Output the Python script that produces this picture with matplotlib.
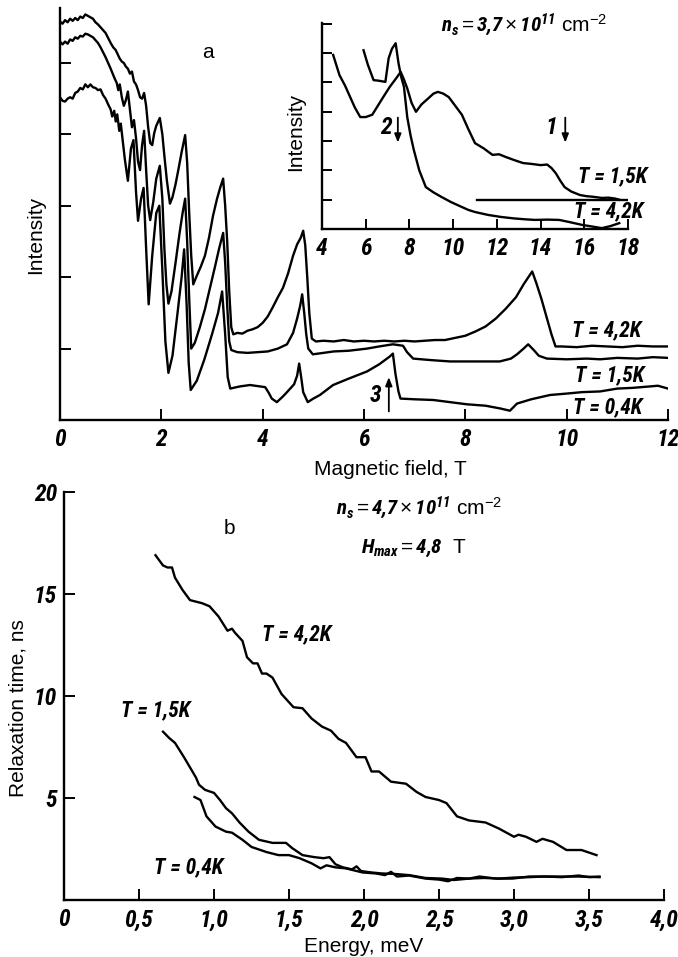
import matplotlib
matplotlib.use('Agg')
import matplotlib.pyplot as plt
from matplotlib import font_manager as fm

# ---------------- panel a : intensity vs magnetic field ----------------
field_42 = [0.00, 0.05, 0.10, 0.15, 0.20, 0.25, 0.30, 0.35, 0.40, 0.45, 0.50, 0.55, 0.60, 0.65, 0.70,
            0.75, 0.80, 0.85, 0.90, 0.95, 1.00, 1.05, 1.10, 1.14, 1.18, 1.22, 1.26, 1.30, 1.34, 1.38,
            1.42, 1.46, 1.50, 1.54, 1.58, 1.62, 1.66, 1.70, 1.74, 1.78, 1.82, 1.86, 1.90, 1.97, 2.02,
            2.06, 2.11, 2.17, 2.22, 2.28, 2.34, 2.40, 2.47, 2.51, 2.55, 2.59, 2.63, 2.70, 2.78, 2.86,
            2.94, 3.02, 3.10, 3.16, 3.22, 3.26, 3.30, 3.34, 3.38, 3.42, 3.50, 3.60, 3.70, 3.80, 3.90,
            4.00, 4.10, 4.20, 4.30, 4.40, 4.50, 4.60, 4.68, 4.75, 4.80, 4.84, 4.88, 4.92, 4.97, 5.05,
            5.20, 5.40, 5.60, 5.80, 6.00, 6.20, 6.40, 6.60, 6.80, 7.00, 7.20, 7.40, 7.60, 7.80, 8.00,
            8.20, 8.40, 8.60, 8.80, 9.00, 9.15, 9.32, 9.40, 9.50, 9.60, 9.70, 9.78, 9.90, 10.20, 10.50,
            10.80, 11.10, 11.40, 11.70, 12.00]
int_42 = [5.58, 5.55, 5.60, 5.57, 5.62, 5.59, 5.63, 5.60, 5.65, 5.63, 5.68, 5.66, 5.64, 5.62, 5.57,
          5.54, 5.50, 5.46, 5.42, 5.35, 5.28, 5.22, 5.18, 5.12, 5.06, 5.02, 5.00, 4.95, 4.92, 4.85,
          4.88, 4.74, 4.70, 4.62, 4.52, 4.50, 4.58, 4.40, 4.10, 3.88, 3.85, 4.02, 4.12, 4.23, 4.00,
          3.70, 3.35, 3.03, 3.12, 3.30, 3.52, 3.75, 3.99, 3.60, 2.90, 2.30, 1.90, 2.02, 2.15, 2.30,
          2.55, 2.86, 3.10, 3.25, 3.38, 3.00, 2.50, 1.80, 1.30, 1.20, 1.22, 1.21, 1.25, 1.27, 1.30,
          1.36, 1.45, 1.58, 1.72, 1.85, 2.05, 2.30, 2.46, 2.55, 2.65, 2.45, 2.00, 1.50, 1.14, 1.10,
          1.11, 1.10, 1.12, 1.10, 1.11, 1.10, 1.11, 1.10, 1.11, 1.10, 1.11, 1.12, 1.12, 1.15, 1.18,
          1.24, 1.31, 1.42, 1.56, 1.72, 1.90, 2.08, 1.92, 1.70, 1.45, 1.20, 1.03, 1.03, 1.02, 1.04,
          1.03, 1.02, 1.04, 1.03, 1.03]

field_15 = [0.00, 0.05, 0.10, 0.15, 0.20, 0.25, 0.30, 0.35, 0.40, 0.45, 0.50, 0.55, 0.60, 0.65, 0.70,
            0.75, 0.80, 0.85, 0.90, 0.95, 1.00, 1.04, 1.08, 1.12, 1.15, 1.18, 1.22, 1.26, 1.30, 1.34,
            1.38, 1.42, 1.46, 1.50, 1.54, 1.58, 1.62, 1.66, 1.70, 1.74, 1.78, 1.84, 1.90, 1.97, 2.02,
            2.06, 2.10, 2.14, 2.20, 2.28, 2.36, 2.42, 2.47, 2.51, 2.55, 2.59, 2.66, 2.76, 2.86, 2.96,
            3.06, 3.14, 3.22, 3.26, 3.30, 3.34, 3.38, 3.50, 3.70, 3.90, 4.10, 4.30, 4.48, 4.60, 4.68,
            4.74, 4.78, 4.82, 4.86, 4.90, 4.99, 5.20, 5.40, 5.70, 6.06, 6.30, 6.57, 6.77, 6.85, 6.97,
            7.30, 7.70, 8.20, 8.68, 8.90, 9.02, 9.15, 9.24, 9.35, 9.45, 9.61, 10.00, 10.40, 10.66, 11.00,
            11.40, 11.70, 12.00]
int_15 = [5.30, 5.26, 5.30, 5.27, 5.33, 5.31, 5.36, 5.34, 5.38, 5.37, 5.41, 5.40, 5.38, 5.36, 5.32,
          5.28, 5.22, 5.15, 5.08, 5.00, 4.92, 4.85, 4.78, 4.72, 4.62, 4.70, 4.52, 4.40, 4.48, 4.60,
          4.35, 4.10, 4.20, 3.95, 3.62, 3.50, 3.85, 4.05, 3.50, 3.00, 2.80, 3.05, 3.38, 3.56, 3.10,
          2.40, 1.90, 1.63, 1.80, 2.20, 2.62, 2.90, 3.10, 2.50, 1.70, 1.00, 1.08, 1.30, 1.55, 1.85,
          2.15, 2.40, 2.62, 2.20, 1.60, 1.10, 0.98, 0.95, 0.94, 0.95, 0.96, 1.00, 1.06, 1.22, 1.42,
          1.60, 1.76, 1.50, 1.20, 1.00, 0.92, 0.94, 0.96, 0.97, 1.00, 1.03, 1.06, 1.04, 0.95, 0.86,
          0.84, 0.82, 0.82, 0.82, 0.86, 0.92, 1.00, 1.06, 0.98, 0.90, 0.86, 0.85, 0.86, 0.85, 0.87,
          0.86, 0.88, 0.87]

field_04 = [0.00, 0.05, 0.10, 0.15, 0.20, 0.25, 0.30, 0.35, 0.40, 0.45, 0.50, 0.55, 0.60, 0.65, 0.70,
            0.75, 0.80, 0.85, 0.90, 0.95, 1.00, 1.03, 1.07, 1.10, 1.13, 1.17, 1.20, 1.24, 1.28, 1.34,
            1.40, 1.45, 1.50, 1.54, 1.60, 1.65, 1.70, 1.75, 1.82, 1.90, 1.96, 2.02, 2.08, 2.14, 2.22,
            2.32, 2.40, 2.45, 2.50, 2.54, 2.58, 2.70, 2.85, 3.00, 3.12, 3.20, 3.26, 3.31, 3.36, 3.55,
            3.75, 3.95, 4.05, 4.12, 4.18, 4.28, 4.40, 4.48, 4.62, 4.68, 4.72, 4.76, 4.80, 4.89, 5.00,
            5.13, 5.39, 5.70, 6.06, 6.30, 6.51, 6.57, 6.62, 6.68, 6.72, 7.00, 7.37, 7.70, 8.03, 8.40,
            8.70, 8.88, 8.95, 9.02, 9.30, 9.67, 10.00, 10.30, 10.66, 11.00, 11.30, 11.64, 11.80, 12.00]
int_04 = [4.52, 4.47, 4.46, 4.50, 4.52, 4.50, 4.58, 4.60, 4.65, 4.63, 4.70, 4.66, 4.70, 4.66, 4.65,
          4.62, 4.63, 4.55, 4.50, 4.42, 4.35, 4.25, 4.33, 4.18, 4.28, 4.05, 4.15, 3.90, 3.65, 3.35,
          3.80, 3.92, 3.20, 2.79, 3.10, 3.25, 2.40, 1.62, 2.30, 2.90, 3.00, 2.10, 1.10, 0.66, 0.90,
          1.50, 2.00, 2.39, 1.60, 0.80, 0.42, 0.55, 0.85, 1.20, 1.50, 1.80, 1.20, 0.60, 0.44, 0.47,
          0.49, 0.47, 0.46, 0.38, 0.30, 0.25, 0.33, 0.39, 0.50, 0.62, 0.79, 0.60, 0.39, 0.25, 0.30,
          0.35, 0.49, 0.58, 0.68, 0.78, 0.89, 0.93, 0.65, 0.40, 0.30, 0.29, 0.28, 0.25, 0.22, 0.20,
          0.16, 0.13, 0.18, 0.23, 0.29, 0.35, 0.37, 0.39, 0.40, 0.44, 0.45, 0.47, 0.48, 0.44]

field_ticks = [0, 2, 4, 6, 8, 10, 12]

# ---------------- inset : n_s = 3.7e11 ----------------
in_field_15 = [4.51, 4.80, 5.05, 5.29, 5.50, 5.75, 6.00, 6.30, 6.55, 6.80, 7.10, 7.40, 7.60, 7.75,
               7.90, 8.10, 8.30, 8.55, 8.85, 9.10, 9.30, 9.55, 9.80, 10.10, 10.40, 10.70, 11.00,
               11.40, 11.80, 12.10, 12.40, 12.80, 13.20, 13.60, 14.00, 14.30, 14.50, 14.70, 14.90,
               15.10, 15.40, 15.80, 16.10, 16.40, 16.80, 17.10, 17.40, 17.60]
in_int_15 = [5.94, 5.25, 4.90, 4.50, 4.15, 3.82, 3.82, 3.90, 4.20, 4.50, 4.85, 5.15, 5.36, 5.10,
             4.80, 4.30, 4.00, 4.25, 4.45, 4.62, 4.68, 4.62, 4.50, 4.20, 3.90, 3.40, 2.93,
             2.75, 2.53, 2.55, 2.46, 2.35, 2.25, 2.22, 2.18, 2.20, 2.08, 1.90, 1.65,
             1.43, 1.28, 1.16, 1.12, 1.10, 1.06, 1.07, 1.04, 1.00]

in_field_42 = [5.90, 6.10, 6.36, 6.60, 6.90, 7.05, 7.20, 7.37, 7.50, 7.62, 7.75, 7.90, 8.05, 8.20,
               8.45, 8.75, 9.10, 9.45, 9.90, 10.40, 10.70, 11.00, 11.60, 12.20, 12.80, 13.30, 13.75,
               14.30, 14.85, 15.30, 15.90, 16.40, 16.80, 17.20, 17.60]
in_int_42 = [6.10, 5.60, 5.08, 5.06, 5.02, 5.83, 6.15, 6.34, 5.66, 5.20, 4.85, 3.82, 3.20, 2.70,
             2.00, 1.43, 1.25, 1.10, 0.92, 0.75, 0.65, 0.58, 0.48, 0.41, 0.36, 0.33, 0.31,
             0.32, 0.31, 0.24, 0.14, 0.08, 0.03, 0.10, 0.20]

in_base_x = [11.1, 18.0]
in_base_y = [1.0, 1.0]

in_ticks = [4, 6, 8, 10, 12, 14, 16, 18]

# ---------------- panel b : relaxation time vs energy ----------------
en_42 = [0.61, 0.66, 0.69, 0.72, 0.74, 0.79, 0.84, 0.92, 0.97, 1.03, 1.09, 1.12, 1.14, 1.19, 1.22,
         1.26, 1.29, 1.32, 1.35, 1.39, 1.45, 1.53, 1.59, 1.65, 1.72, 1.78, 1.83, 1.88, 1.95, 2.01,
         2.05, 2.10, 2.18, 2.28, 2.35, 2.41, 2.50, 2.55, 2.62, 2.70, 2.81, 2.90, 3.00, 3.03, 3.08,
         3.15, 3.19, 3.26, 3.35, 3.45, 3.55]
tau_42 = [16.9, 16.4, 16.3, 16.3, 15.8, 15.2, 14.7, 14.55, 14.4, 13.9, 13.2, 13.3, 13.1, 12.7, 11.9,
          11.6, 11.6, 11.1, 11.1, 10.9, 10.1, 9.45, 9.4, 8.9, 8.5, 8.3, 7.9, 7.7, 7.0, 7.0,
          6.3, 6.3, 5.8, 5.7, 5.3, 5.05, 4.9, 4.75, 4.1, 3.9, 3.8, 3.5, 3.1, 3.2, 3.1,
          2.85, 3.0, 2.85, 2.45, 2.45, 2.2]

en_15 = [0.66, 0.70, 0.74, 0.80, 0.84, 0.88, 0.90, 0.94, 1.00, 1.04, 1.08, 1.12, 1.17, 1.23, 1.30,
         1.39, 1.48, 1.52, 1.59, 1.67, 1.73, 1.77, 1.81, 1.86, 1.92, 1.95, 1.98, 2.05, 2.12, 2.20,
         2.30, 2.41, 2.52, 2.60, 2.70, 2.77, 2.88, 2.99, 3.10, 3.21, 3.32, 3.43, 3.50, 3.57]
tau_15 = [8.25, 7.95, 7.7, 7.0, 6.5, 6.0, 5.65, 5.4, 5.25, 4.9, 4.5, 4.25, 3.8, 3.35, 2.95,
          2.8, 2.8, 2.55, 2.2, 2.1, 2.05, 2.1, 1.75, 1.6, 1.5, 1.65, 1.42, 1.35, 1.3, 1.28,
          1.22, 1.08, 1.05, 0.98, 1.05, 1.15, 1.05, 1.05, 1.15, 1.15, 1.12, 1.2, 1.12, 1.15]

en_04 = [0.87, 0.91, 0.95, 1.01, 1.08, 1.12, 1.19, 1.25, 1.35, 1.43, 1.50, 1.57, 1.65, 1.71, 1.75,
         1.81, 1.88, 1.99, 2.08, 2.14, 2.18, 2.22, 2.30, 2.41, 2.50, 2.56, 2.62, 2.70, 2.80, 2.90,
         3.00, 3.10, 3.20, 3.32, 3.43, 3.57]
tau_04 = [5.05, 4.9, 4.1, 3.6, 3.35, 3.3, 2.95, 2.6, 2.35, 2.2, 2.2, 2.05, 1.8, 1.55, 1.7,
          1.6, 1.55, 1.35, 1.3, 1.22, 1.38, 1.15, 1.2, 1.05, 1.0, 0.92, 1.08, 1.05, 1.08, 1.05,
          1.1, 1.12, 1.15, 1.15, 1.15, 1.12]

en_ticks = [0, 0.5, 1.0, 1.5, 2.0, 2.5, 3.0, 3.5, 4.0]
en_labels = ['0', '0,5', '1,0', '1,5', '2,0', '2,5', '3,0', '3,5', '4,0']
tau_ticks = [5, 10, 15, 20]


# ---------------- styling ----------------
def first_font(names):
    for n in names:
        try:
            fm.findfont(fm.FontProperties(family=n), fallback_to_default=False)
            return n
        except ValueError:
            pass
    return 'DejaVu Sans'


NARROW = first_font(['Liberation Sans Narrow', 'Roboto Condensed', 'DejaVu Sans Condensed',
                     'Open Sans Condensed', 'Roboto'])

plt.rcParams['mathtext.fontset'] = 'custom'
plt.rcParams['mathtext.rm'] = 'Liberation Sans'
plt.rcParams['mathtext.it'] = NARROW + ':italic:bold'
plt.rcParams['mathtext.sf'] = NARROW + ':italic:bold'   # used for the bold-italic numbers
plt.rcParams['mathtext.bf'] = 'Liberation Sans:bold'

NUM = dict(family=[NARROW, 'DejaVu Sans'], style='italic', weight='bold')
LAB = dict(family=['Liberation Sans', 'DejaVu Sans'], size=15)
LW = 1.7
TSZ = 17   # tick labels
LSZ = 15.5  # T = ... labels


def style_axes(ax):
    for s in ['top', 'right']:
        ax.spines[s].set_visible(False)
    for s in ['left', 'bottom']:
        ax.spines[s].set_linewidth(1.7)
    ax.tick_params(direction='in', length=8, width=1.4, top=False, right=False, pad=6)


fig = plt.figure(figsize=(6.78, 9.57), dpi=100)
W, H = 678.0, 957.0

# panel a
ax = fig.add_axes([60 / W, 1 - 420 / H, 608 / W, 412 / H])
style_axes(ax)
ax.plot(field_42, int_42, 'k-', lw=LW)
ax.plot(field_15, int_15, 'k-', lw=LW)
ax.plot(field_04, int_04, 'k-', lw=LW)
ax.set_xlim(0, 12)
ax.set_ylim(0, 5.77)
ax.set_xticks(field_ticks)
ax.set_xticklabels([str(t) for t in field_ticks], size=TSZ, **NUM)
ax.set_yticks([1, 2, 3, 4, 5])
ax.set_yticklabels([])
ax.set_xlabel('Magnetic field, T', **LAB)
ax.xaxis.set_label_coords(0.543, -0.097)
ax.set_ylabel('Intensity', **LAB)
ax.yaxis.set_label_coords(-0.025, 0.45)
ax.text(2.92, 5.15, 'a', ha='center', va='center', **LAB)
ax.text(10.78, 1.26, 'T = 4,2K', ha='center', va='center', size=LSZ, **NUM)
ax.text(10.85, 0.62, 'T = 1,5K', ha='center', va='center', size=LSZ, **NUM)
ax.text(10.80, 0.18, 'T = 0,4K', ha='center', va='center', size=LSZ, **NUM)
ax.text(6.22, 0.35, '3', ha='center', va='center', size=17, **NUM)
ax.annotate('', xy=(6.49, 0.60), xytext=(6.49, 0.12),
            arrowprops=dict(arrowstyle='-|>,head_length=0.5,head_width=0.2', lw=1.3, color='k',
                            shrinkA=0, shrinkB=0))

# inset
axi = fig.add_axes([322 / W, 1 - 229 / H, 306 / W, 206 / H])
axi.set_facecolor('none')
style_axes(axi)
axi.tick_params(length=7)
axi.plot(in_field_15, in_int_15, 'k-', lw=LW)
axi.plot(in_field_42, in_int_42, 'k-', lw=LW)
axi.plot(in_base_x, in_base_y, 'k-', lw=LW)
axi.set_xlim(4, 18)
axi.set_ylim(0, 7.03)
axi.set_xticks(in_ticks)
axi.set_xticklabels([str(t) for t in in_ticks], size=TSZ, **NUM)
axi.set_yticks([1, 2, 3, 4, 5, 6, 7])
axi.set_yticklabels([])
axi.set_ylabel('Intensity', **LAB)
axi.yaxis.set_label_coords(-0.055, 0.47)
axi.text(9.45, 6.95, r'$n_s = \mathsf{3{,}7}\times\mathsf{10}^{\mathsf{11}}$ cm$^{-2}$',
         ha='left', va='center', size=15, family='Liberation Sans')
axi.text(17.3, 1.8, 'T = 1,5K', ha='center', va='center', size=LSZ, **NUM)
axi.text(17.1, 0.62, 'T = 4,2K', ha='center', va='center', size=LSZ, **NUM)
axi.text(6.92, 3.45, '2', ha='center', va='center', size=17, **NUM)
axi.text(14.48, 3.45, '1', ha='center', va='center', size=17, **NUM)
for xa in [7.47, 15.13]:
    axi.annotate('', xy=(xa, 2.95), xytext=(xa, 3.8),
                 arrowprops=dict(arrowstyle='-|>,head_length=0.5,head_width=0.2', lw=1.3,
                                 color='k', shrinkA=0, shrinkB=0))

# panel b
axb = fig.add_axes([64 / W, 1 - 900 / H, 600 / W, 408 / H])
style_axes(axb)
axb.tick_params(axis='y', pad=5)
axb.plot(en_42, tau_42, 'k-', lw=LW)
axb.plot(en_15, tau_15, 'k-', lw=LW)
axb.plot(en_04, tau_04, 'k-', lw=LW)
axb.set_xlim(0, 4)
axb.set_ylim(0, 20)
axb.set_xticks(en_ticks)
axb.set_xticklabels(en_labels, size=TSZ, **NUM)
axb.set_yticks(tau_ticks)
axb.set_yticklabels([str(t) for t in tau_ticks], size=TSZ, **NUM)
axb.set_xlabel('Energy, meV', **LAB)
axb.xaxis.set_label_coords(0.5, -0.09)
axb.set_ylabel('Relaxation time, ns', **LAB)
axb.yaxis.set_label_coords(-0.06, 0.47)
axb.text(1.10, 18.2, 'b', ha='center', va='center', **LAB)
axb.text(1.55, 13.0, 'T = 4,2K', ha='center', va='center', size=LSZ, **NUM)
axb.text(0.61, 9.3, 'T = 1,5K', ha='center', va='center', size=LSZ, **NUM)
axb.text(0.83, 1.6, 'T = 0,4K', ha='center', va='center', size=LSZ, **NUM)
axb.text(1.81, 19.2, r'$n_s = \mathsf{4{,}7}\times\mathsf{10}^{\mathsf{11}}$ cm$^{-2}$',
         ha='left', va='center', size=15, family='Liberation Sans')
axb.text(1.98, 17.25, r'$H_{max} = \mathsf{4{,}8}$  T', ha='left', va='center', size=15,
         family='Liberation Sans')

fig.savefig('out.png', dpi=100)
